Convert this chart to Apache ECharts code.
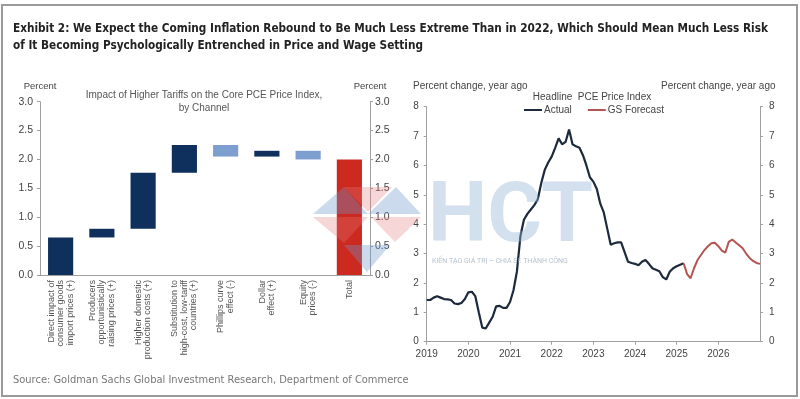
<!DOCTYPE html>
<html>
<head>
<meta charset="utf-8">
<script src="https://cdn.jsdelivr.net/npm/echarts@6/dist/echarts.min.js"></script>
<style>
  html, body { margin: 0; padding: 0; background: #fff; }
  #chart { width: 800px; height: 399px; }
</style>
</head>
<body>
<div id="chart"></div>
<script>
// left panel: tariff impact on core PCE, by channel (waterfall)
var channels = [
  'Direct impact of\nconsumer goods\nimport prices (+)',
  'Producers\nopportunistically\nraising prices (+)',
  'Higher domestic\nproduction costs (+)',
  'Substitution to\nhigh-cost, low-tariff\ncountries (+)',
  'Phillips curve\neffect (-)',
  'Dollar\neffect (+)',
  'Equity\nprices (-)',
  'Total'
]
var barFrom = [0, 0.65, 0.8, 1.77, 2.25, 2.05, 2.15, 0]
var barTo = [0.65, 0.8, 1.77, 2.25, 2.05, 2.15, 2.0, 2.0]

// right panel: headline PCE, % yoy, monthly from 2019-01
var years = [2019, 2020, 2021, 2022, 2023, 2024, 2025, 2026]
var actual = [
  1.42, 1.42, 1.5, 1.55, 1.5, 1.45, 1.44, 1.42, 1.3, 1.28, 1.32, 1.45,
  1.68, 1.7, 1.55, 1.0, 0.48, 0.45, 0.65, 0.85, 1.2, 1.22, 1.15, 1.15,
  1.35, 1.75, 2.4, 3.6, 4.15, 4.35, 4.5, 4.65, 4.85, 5.4, 5.85, 6.1,
  6.3, 6.6, 6.92, 6.72, 6.8, 7.22, 6.72, 6.65, 6.6, 6.35, 6.0, 5.6,
  5.45, 5.2, 4.7, 4.4, 3.85, 3.3, 3.35, 3.38, 3.38, 3.05, 2.72, 2.68,
  2.65, 2.6, 2.72, 2.78, 2.65, 2.5, 2.45, 2.4, 2.2, 2.12, 2.38, 2.5,
  2.57, 2.62, 2.67
]
// GS forecast, starting at the last actual month (2025-03)
var forecast = [
  2.67, 2.3, 2.16, 2.5, 2.78, 2.95, 3.12, 3.25, 3.35, 3.37,
  3.25, 3.1, 3.03, 3.4, 3.48, 3.38, 3.28, 3.18, 3.0, 2.85, 2.75, 2.68,
  2.65
]

var months = []
years.forEach(function (y) {
  for (var m = 1; m <= 12; m++) months.push(y + '-' + (m < 10 ? '0' + m : m))
})
months.push('2027-01')

var forecastSeries = new Array(actual.length - 1).fill(null).concat(forecast)

var barBase = barFrom.map(function (v, i) { return Math.min(v, barTo[i]) })
var barSize = barFrom.map(function (v, i) { return +Math.abs(barTo[i] - v).toFixed(2) })

var NAVY = '#0f2f5c'
var LIGHT = '#7d9fcf'
var RED = '#cc2a20'
var AXIS = '#a0a0a0'
var TXT = '#444'
var FONT = '"Liberation Sans", Arial, sans-serif'
var NARROW = '"DejaVu Sans Condensed", sans-serif'

function barColor(i) {
  if (i === channels.length - 1) return RED
  return barTo[i] >= barFrom[i] ? NAVY : LIGHT
}

function isJan(idx) {
  return months[idx].slice(5) === '01' && idx < months.length - 1
}

var myChart = echarts.init(document.getElementById('chart'))
var option = {
  animation: false,
  textStyle: { fontFamily: FONT },
  title: [
    {
      text: 'Exhibit 2: We Expect the Coming Inflation Rebound to Be Much Less Extreme Than in 2022, Which Should Mean Much Less Risk\nof It Becoming Psychologically Entrenched in Price and Wage Setting',
      left: 13, top: 20, padding: 0,
      textStyle: { fontFamily: NARROW, fontWeight: 'bold', fontSize: 11.7, lineHeight: 17, color: '#222' }
    },
    {
      text: 'Impact of Higher Tariffs on the Core PCE Price Index,\nby Channel',
      left: 204, top: 88.5, textAlign: 'center', padding: 0,
      textStyle: { fontSize: 10, lineHeight: 13, fontWeight: 'normal', color: '#555' }
    },
    {
      text: 'Headline  PCE Price Index',
      left: 592, top: 92.5, textAlign: 'center', padding: 0,
      textStyle: { fontSize: 10, fontWeight: 'normal', color: '#444' }
    },
    {
      text: 'Percent change, year ago',
      left: 413, top: 81.5, padding: 0,
      textStyle: { fontSize: 10, fontWeight: 'normal', color: '#444' }
    },
    {
      text: 'Percent change, year ago',
      left: 661, top: 81.5, padding: 0,
      textStyle: { fontSize: 10, fontWeight: 'normal', color: '#444' }
    },
    {
      text: 'Source: Goldman Sachs Global Investment Research, Department of Commerce',
      left: 13, top: 375, padding: 0,
      textStyle: { fontFamily: NARROW, fontSize: 11, fontWeight: 'normal', color: '#777' }
    }
  ],
  legend: {
    left: 524, top: 105, padding: 0,
    itemWidth: 18, itemHeight: 2, itemGap: 16,
    icon: 'rect',
    textStyle: { fontSize: 10, color: '#444', padding: [0, 0, 0, -3] },
    data: ['Actual', 'GS Forecast']
  },
  grid: [
    { left: 40, top: 101.7, width: 330, height: 173.3 },
    { left: 426.7, top: 106.7, width: 333.3, height: 235 }
  ],
  xAxis: [
    {
      type: 'category', gridIndex: 0, data: channels,
      axisLine: { lineStyle: { color: AXIS } },
      axisTick: { length: 3, lineStyle: { color: AXIS } },
      axisLabel: { rotate: 90, fontSize: 9, lineHeight: 9.5, color: '#555', margin: 5, interval: 0 }
    },
    {
      type: 'category', gridIndex: 1, data: months, boundaryGap: false,
      axisLine: { lineStyle: { color: AXIS } },
      axisTick: { length: 3, interval: function (idx) { return isJan(idx) }, lineStyle: { color: AXIS } },
      axisLabel: {
        interval: function (idx) { return isJan(idx) },
        formatter: function (v) { return v.slice(0, 4) },
        fontSize: 10, color: TXT, margin: 8
      }
    }
  ],
  yAxis: [
    {
      type: 'value', gridIndex: 0, min: 0, max: 3, interval: 0.5,
      name: 'Percent', nameGap: 10, nameTextStyle: { fontSize: 9.5, color: TXT },
      axisLine: { show: true, lineStyle: { color: AXIS } },
      axisTick: { show: true, length: 3, lineStyle: { color: AXIS } },
      splitLine: { show: false },
      axisLabel: { fontSize: 10.5, color: TXT, margin: 7, formatter: function (v) { return v.toFixed(1) } }
    },
    {
      type: 'value', gridIndex: 0, position: 'right', min: 0, max: 3, interval: 0.5,
      name: 'Percent', nameGap: 10, nameTextStyle: { fontSize: 9.5, color: TXT },
      axisLine: { show: true, lineStyle: { color: AXIS } },
      axisTick: { show: true, length: 3, lineStyle: { color: AXIS } },
      splitLine: { show: false },
      axisLabel: { fontSize: 10.5, color: TXT, margin: 5, formatter: function (v) { return v.toFixed(1) } }
    },
    {
      type: 'value', gridIndex: 1, min: 0, max: 8, interval: 1,
      axisLine: { show: true, lineStyle: { color: AXIS } },
      axisTick: { show: true, length: 3, lineStyle: { color: AXIS } },
      splitLine: { show: false },
      axisLabel: { fontSize: 10, color: TXT, margin: 8 }
    },
    {
      type: 'value', gridIndex: 1, position: 'right', min: 0, max: 8, interval: 1,
      axisLine: { show: true, lineStyle: { color: AXIS } },
      axisTick: { show: true, length: 3, lineStyle: { color: AXIS } },
      splitLine: { show: false },
      axisLabel: { fontSize: 10, color: TXT, margin: 9 }
    }
  ],
  series: [
    {
      type: 'bar', xAxisIndex: 0, yAxisIndex: 0, stack: 'wf', barWidth: '61%',
      itemStyle: { color: 'transparent' },
      emphasis: { disabled: true },
      data: barBase
    },
    {
      type: 'bar', xAxisIndex: 0, yAxisIndex: 0, stack: 'wf', barWidth: '61%',
      data: barSize.map(function (v, i) {
        return { value: v, itemStyle: { color: barColor(i) } }
      })
    },
    {
      name: 'Actual', type: 'line', xAxisIndex: 1, yAxisIndex: 2,
      data: actual, showSymbol: false, symbol: 'none',
      lineStyle: { color: '#1c2a3c', width: 2.2 }, itemStyle: { color: '#1c2a3c' }
    },
    {
      name: 'GS Forecast', type: 'line', xAxisIndex: 1, yAxisIndex: 2,
      data: forecastSeries, showSymbol: false, symbol: 'none',
      lineStyle: { color: '#b55450', width: 2 }, itemStyle: { color: '#b55450' }
    }
  ],
  graphic: [
    // outer frame
    { type: 'rect', shape: { x: 2, y: 5, width: 795, height: 391 }, style: { fill: 'none', stroke: '#9a9a9a', lineWidth: 2 }, z: 50 },
    // HCT watermark
    { type: 'polygon', shape: { points: [[313, 214], [344, 187], [368, 214]] }, style: { fill: 'rgba(110,150,205,0.35)' }, z: 100 },
    { type: 'polygon', shape: { points: [[344, 187], [392, 187], [368, 212]] }, style: { fill: 'rgba(225,120,120,0.3)' }, z: 100 },
    { type: 'polygon', shape: { points: [[368, 214], [396, 187], [421, 214]] }, style: { fill: 'rgba(110,150,205,0.35)' }, z: 100 },
    { type: 'polygon', shape: { points: [[313, 217], [368, 217], [344, 243]] }, style: { fill: 'rgba(225,120,120,0.3)' }, z: 100 },
    { type: 'polygon', shape: { points: [[371, 217], [421, 217], [395, 242]] }, style: { fill: 'rgba(225,120,120,0.3)' }, z: 100 },
    { type: 'polygon', shape: { points: [[344, 245], [390, 245], [367, 272]] }, style: { fill: 'rgba(110,150,205,0.35)' }, z: 100 },
    {
      type: 'text', left: 428, top: 178, z: 100,
      style: { text: 'HCT', font: 'bold 84px Roboto, sans-serif', fill: 'rgba(150,180,215,0.42)' }
    },
    {
      type: 'text', left: 432, top: 258, z: 100,
      style: { text: 'KIẾN TẠO GIÁ TRỊ – CHIA SẺ THÀNH CÔNG', font: '7px Roboto, sans-serif', fill: 'rgba(150,165,185,0.7)' }
    }
  ]
}
myChart.setOption(option)
</script>
</body>
</html>
